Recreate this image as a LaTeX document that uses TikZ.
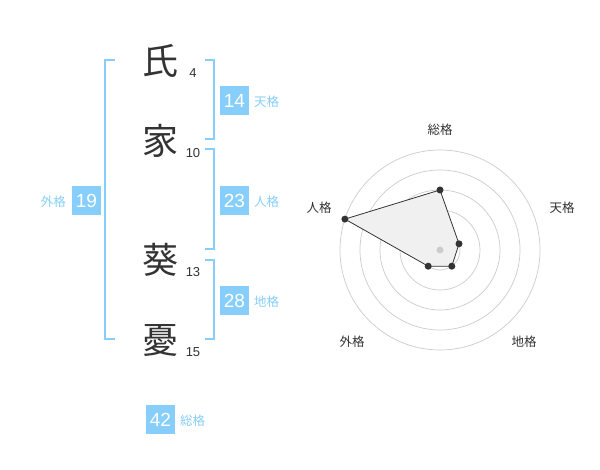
\documentclass[tikz,border=0pt]{standalone}
\usepackage{fontspec}
\setmainfont{Liberation Sans}
\newfontfamily\cjk{Noto Sans CJK JP}
\definecolor{sky}{HTML}{87CEFA}
\definecolor{ink}{HTML}{333333}
\definecolor{ring}{HTML}{CCCCCC}
\begin{document}
\begin{tikzpicture}[x=1pt,y=-1pt,
  kanji/.style={font=\cjk\fontsize{36}{36}\selectfont,text=ink,inner sep=0pt},
  stroke/.style={font=\fontsize{13}{13}\selectfont,text=ink,inner sep=0pt},
  numbox/.style={fill=sky,text=white,minimum width=29pt,minimum height=29pt,inner sep=0pt,font=\fontsize{19}{19}\selectfont},
  kaku/.style={font=\cjk\fontsize{12.5}{12.5}\selectfont,text=sky,inner sep=0pt},
  bracket/.style={draw=sky,line width=2pt},
  axlabel/.style={font=\cjk\fontsize{12.5}{12.5}\selectfont,text=ink,inner sep=0pt},
  dot/.style={circle,fill=ink,minimum size=7pt,inner sep=0pt}]
\useasboundingbox (0,0) rectangle (600,470);
\fill[white] (0,0) rectangle (600,470);
% characters
\node[kanji] (c1) at (160,61) {氏};
\node[kanji] (c2) at (160,141) {家};
\node[kanji] (c3) at (160,260) {葵};
\node[kanji] (c4) at (160,341) {憂};
\node[stroke] (s1) at (193,73) {4};
\node[stroke] (s2) at (193,153) {10};
\node[stroke] (s3) at (193,272.5) {13};
\node[stroke] (s4) at (193,352.5) {15};
% brackets
\draw[bracket] (115,60) -- (105,60) -- (105,339) -- (115,339);
\draw[bracket] (205,60) -- (214,60) -- (214,139) -- (205,139);
\draw[bracket] (205,149) -- (214,149) -- (214,249) -- (205,249);
\draw[bracket] (205,260) -- (214,260) -- (214,339) -- (205,339);
% boxes
\node[numbox] (ten) at (234.5,100.5) {14};
\node[kaku,anchor=west] (tenl) at (254,102) {天格};
\node[numbox] (jin) at (234.5,200.5) {23};
\node[kaku,anchor=west] (jinl) at (254,202) {人格};
\node[numbox] (chi) at (234.5,300.5) {28};
\node[kaku,anchor=west] (chil) at (254,302) {地格};
\node[numbox] (gai) at (86.5,200.5) {19};
\node[kaku,anchor=east] (gail) at (66,202) {外格};
\node[numbox] (sou) at (160.5,419.5) {42};
\node[kaku,anchor=west] (soul) at (180,421) {総格};
% radar
\coordinate (rc) at (440,250);
\foreach \r in {20,40,60,80,100} \draw[ring,line width=0.7pt] (rc) circle[radius=\r];
\coordinate (p1) at (440,190);
\coordinate (p2) at (459.0,243.8);
\coordinate (p3) at (451.8,266.2);
\coordinate (p4) at (428.2,266.2);
\coordinate (p5) at (344.9,219.1);
\filldraw[fill=black!6,draw=ink,line width=0.8pt] (p1) -- (p2) -- (p3) -- (p4) -- (p5) -- cycle;
\node[circle,fill=ring,minimum size=7pt,inner sep=0pt] (cdot) at (rc) {};
\foreach \p in {p1,p2,p3,p4,p5} \node[dot] at (\p) {};
\node[axlabel] (a1) at (440,130) {総格};
\node[axlabel] (a2) at (562,208) {天格};
\node[axlabel] (a3) at (524,342) {地格};
\node[axlabel] (a4) at (352,342) {外格};
\node[axlabel] (a5) at (319,208) {人格};
\end{tikzpicture}
\end{document}
